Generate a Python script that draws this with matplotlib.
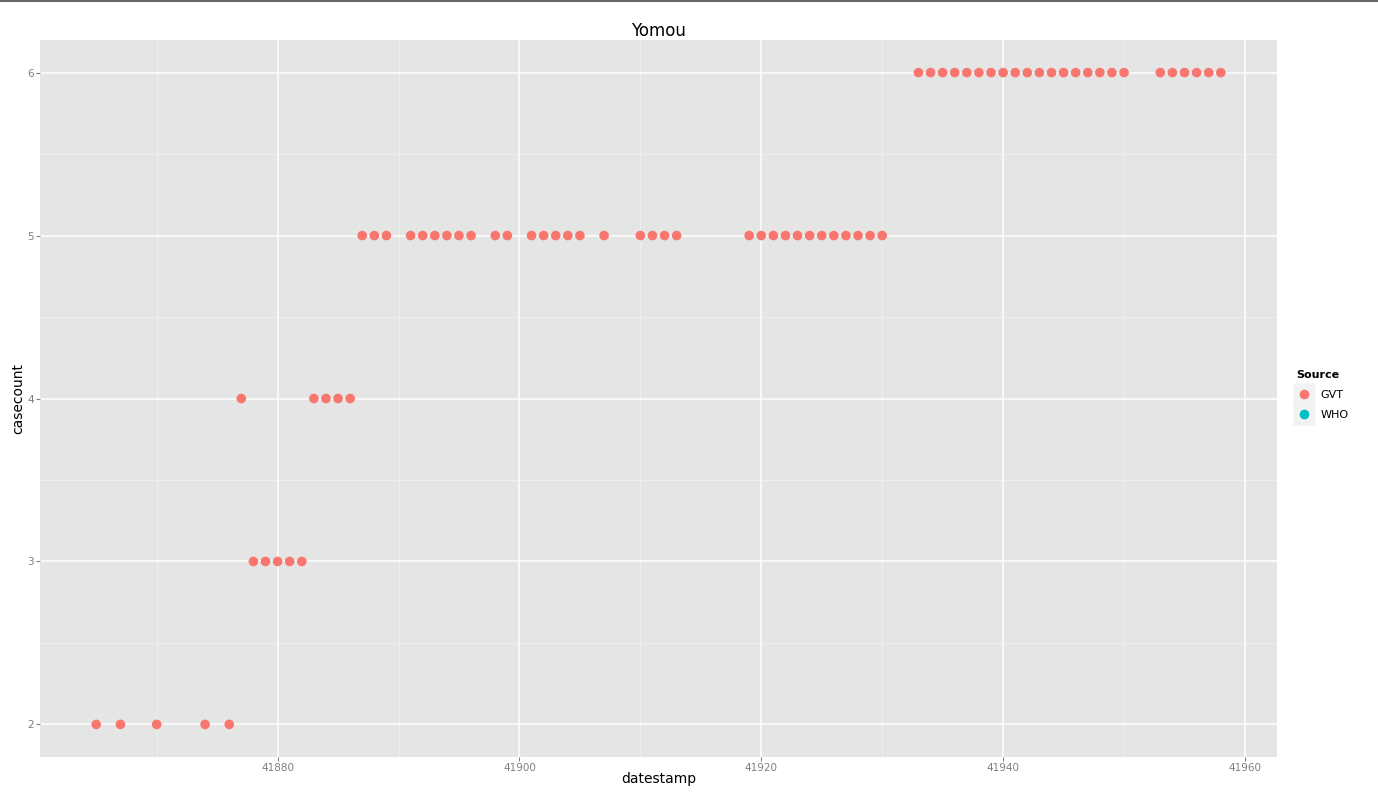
import numpy as np
import matplotlib.pyplot as plt
from matplotlib.lines import Line2D

# data (all points belong to source GVT)
dates_2 = [41865, 41867, 41870, 41874, 41876]
dates_3 = [41878, 41879, 41880, 41881, 41882]
dates_4 = [41877, 41883, 41884, 41885, 41886]
dates_5 = [41887, 41888, 41889, 41891, 41892, 41893, 41894, 41895, 41896,
           41898, 41899, 41901, 41902, 41903, 41904, 41905, 41907,
           41910, 41911, 41912, 41913,
           41919, 41920, 41921, 41922, 41923, 41924, 41925, 41926, 41927,
           41928, 41929, 41930]
dates_6 = [41933, 41934, 41935, 41936, 41937, 41938, 41939, 41940, 41941,
           41942, 41943, 41944, 41945, 41946, 41947, 41948, 41949, 41950,
           41953, 41954, 41955, 41956, 41957, 41958]

datestamp = dates_2 + dates_3 + dates_4 + dates_5 + dates_6
casecount = ([2] * len(dates_2) + [3] * len(dates_3) + [4] * len(dates_4)
             + [5] * len(dates_5) + [6] * len(dates_6))
sources = ['GVT', 'WHO']
source_colors = ['#F8766D', '#00BFC4']

fig = plt.figure(figsize=(13.78, 7.97), dpi=100)
ax = fig.add_axes([40 / 1378, 40 / 797, (1277 - 40) / 1378, (757 - 40) / 797])
ax.set_facecolor('#E5E5E5')

ax.set_xlim(41860.35, 41962.65)
ax.set_ylim(1.8, 6.2)
ax.set_xticks([41880, 41900, 41920, 41940, 41960])
ax.set_yticks([2, 3, 4, 5, 6])
ax.set_xticks(np.arange(41870, 41961, 20), minor=True)
ax.set_yticks(np.arange(2.5, 6, 1), minor=True)
ax.grid(which='major', color='white', linewidth=1.1)
ax.grid(which='minor', color='#F2F2F2', linewidth=0.5)
ax.set_axisbelow(True)
for s in ax.spines.values():
    s.set_visible(False)
ax.tick_params(which='major', colors='#7F7F7F', labelcolor='#7F7F7F', labelsize=7.5,
               length=3, width=0.8, pad=1.5)
ax.tick_params(which='minor', length=0)

ax.scatter(datestamp, casecount, s=48, color=source_colors[0], edgecolors='none', zorder=3)

ax.set_xlabel('datestamp', fontsize=10, labelpad=-1)
ax.set_ylabel('casecount', fontsize=10, labelpad=1)
ax.set_title('Yomou', fontsize=12, pad=3)

# legend keys: grey box with coloured dot, like ggplot2
boxes = [Line2D([], [], marker='s', linestyle='', markersize=16, markerfacecolor='#F2F2F2',
                markeredgecolor='none') for c in source_colors]
dots = [Line2D([], [], marker='o', linestyle='', markersize=7, markerfacecolor=c,
               markeredgecolor='none') for c in source_colors]
leg = fig.legend(list(zip(boxes, dots)), sources, title='Source', loc='center left',
                 bbox_to_anchor=(1286 / 1378, 0.505), frameon=False, fontsize=8,
                 title_fontsize=8, handletextpad=0.8, labelspacing=0.9, alignment='left',
                 handlelength=1.4)
leg.get_title().set_fontweight('bold')

# screenshot top border
fig.add_artist(Line2D([0, 1], [0.999, 0.999], color='#666666', linewidth=1.5))

fig.savefig('out.png', dpi=100)
